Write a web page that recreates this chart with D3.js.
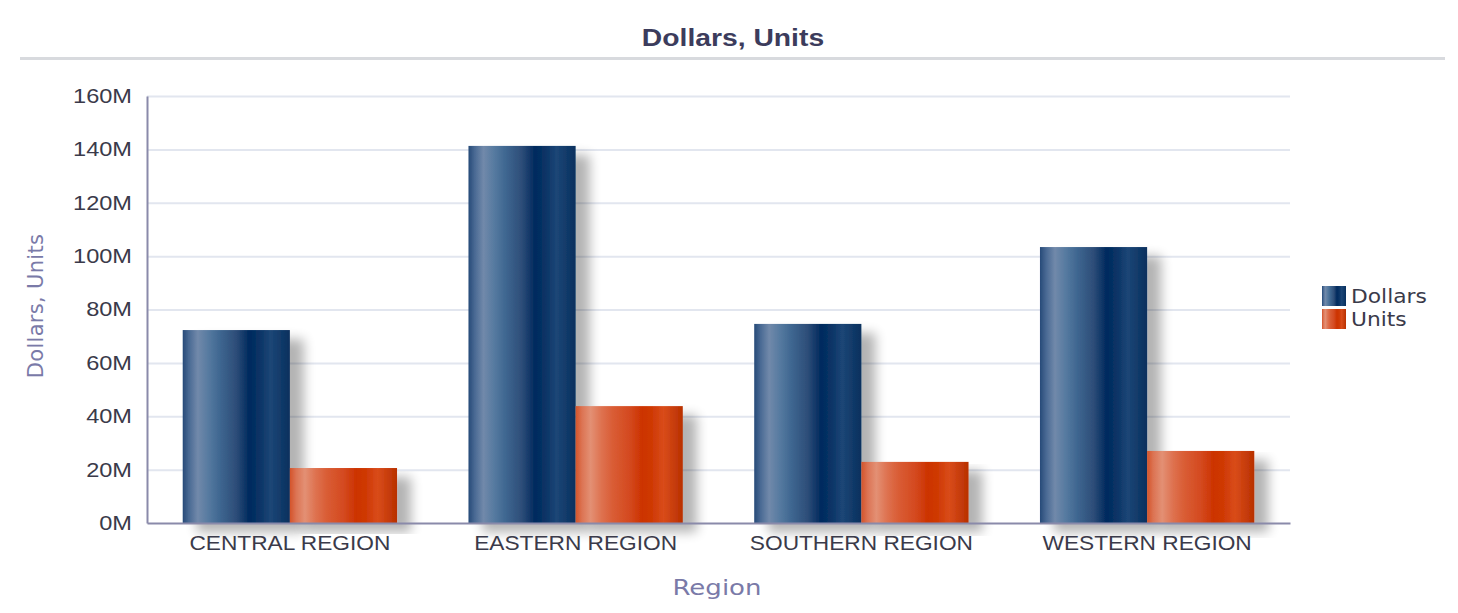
<!DOCTYPE html>
<html><head><meta charset="utf-8">
<script src="https://cdn.jsdelivr.net/npm/d3@7"></script>
<style>body{margin:0;background:#fff}svg{display:block}</style>
</head><body>
<svg id="c" width="1458" height="613"></svg>
<script>
const categories = ["CENTRAL REGION","EASTERN REGION","SOUTHERN REGION","WESTERN REGION"];
const seriesNames = ["Dollars","Units"];
const dollars = [72.3, 141.3, 74.6, 103.4];
const units = [20.6, 43.8, 22.9, 27.0];
const yTicks = [0,20,40,60,80,100,120,140,160];

const svg = d3.select("#c");
const W=1458,H=613;
const m = {l:147, r:168, t:96, b:90};
const x0 = d3.scaleBand().domain(categories).range([m.l, W-m.r]).paddingInner(0.25).paddingOuter(0.125);
const x1 = d3.scaleBand().domain(seriesNames).range([0, x0.bandwidth()]);
const y = d3.scaleLinear().domain([0,160]).range([H-m.b, m.t]);
const ARIAL = "Liberation Sans, Arial, sans-serif";
const VERD = "DejaVu Sans, Verdana, sans-serif";

const defs = svg.append("defs");
function grad(id, stops){
  const g = defs.append("linearGradient").attr("id",id).attr("x1","0").attr("x2","1").attr("y1","0").attr("y2","0");
  stops.forEach(s=>g.append("stop").attr("offset",s[0]).attr("stop-color",s[1]));
}
grad("gD",[[0,"#264a78"],[0.06,"#4a6a94"],[0.14,"#7189aa"],[0.24,"#567aa0"],[0.35,"#3e6690"],[0.5,"#2d4d78"],[0.62,"#002a5e"],[0.72,"#0a3466"],[0.82,"#1c4676"],[1,"#08305e"]]);
grad("gU",[[0,"#d4542a"],[0.06,"#dc7454"],[0.14,"#e39074"],[0.24,"#de7250"],[0.35,"#d95c34"],[0.5,"#d44a20"],[0.62,"#cc3300"],[0.72,"#cf3a06"],[0.82,"#d94c1a"],[1,"#b83000"]]);
const f = defs.append("filter").attr("id","sh").attr("x","-10%").attr("y","-10%").attr("width","160%").attr("height","130%");
f.append("feGaussianBlur").attr("in","SourceAlpha").attr("stdDeviation",6).attr("result","b");
f.append("feOffset").attr("in","b").attr("dx",14).attr("dy",9).attr("result","o");
f.append("feComponentTransfer").attr("in","o").attr("result","o2").append("feFuncA").attr("type","linear").attr("slope",0.3);
const mg = f.append("feMerge"); mg.append("feMergeNode").attr("in","o2"); mg.append("feMergeNode").attr("in","SourceGraphic");

// title
svg.append("text").attr("transform","translate(733,46) scale(1.23,1)").attr("text-anchor","middle")
  .attr("font-family",ARIAL).attr("font-weight","bold").attr("font-size",23)
  .attr("fill","#3c3c5c").text("Dollars, Units");
svg.append("line").attr("x1",20).attr("x2",1445).attr("y1",58.5).attr("y2",58.5).attr("stroke","#d8dade").attr("stroke-width",3);

// grid
svg.append("g").selectAll("line").data(yTicks.filter(d=>d>0)).join("line")
  .attr("x1",m.l).attr("x2",W-m.r).attr("y1",d=>y(d)+0.5).attr("y2",d=>y(d)+0.5)
  .attr("stroke","#e2e6ef").attr("stroke-width",2);

// bars
const data = categories.map((c,i)=>({c, vals:[{s:"Dollars",v:dollars[i]},{s:"Units",v:units[i]}]}));
const gg = svg.append("g").selectAll("g").data(data).join("g").attr("transform",d=>`translate(${x0(d.c)},0)`);
gg.selectAll("rect").data(d=>d.vals).join("rect")
  .attr("x",d=>x1(d.s)).attr("width",x1.bandwidth()).attr("y",d=>y(d.v)).attr("height",d=>y(0)-y(d.v))
  .attr("fill",d=>d.s==="Dollars"?"url(#gD)":"url(#gU)").attr("filter","url(#sh)");

// axes
const yAxis = d3.axisLeft(y).tickValues(yTicks).tickSize(0).tickPadding(15).tickFormat(d=>d+"M");
const ya = svg.append("g").attr("transform",`translate(${m.l},0)`).call(yAxis);
ya.select(".domain").attr("stroke","#8a8aaa").attr("stroke-width",2);
ya.selectAll("text").attr("font-family",ARIAL).attr("font-size",20).attr("fill","#3a3a4a")
  .attr("x",-15/1.18).attr("transform","scale(1.18,1)");

const xAxis = d3.axisBottom(x0).tickSize(0).tickPadding(13);
const xa = svg.append("g").attr("transform",`translate(0,${y(0)})`).call(xAxis);
xa.select(".domain").attr("stroke","#8a8aaa").attr("stroke-width",2);
xa.selectAll("text").attr("font-family",ARIAL).attr("font-size",20).attr("fill","#3a3a4a")
  .attr("transform","scale(1.135,1)");

svg.append("text").attr("transform","translate(43,306) rotate(-90)").attr("text-anchor","middle")
  .attr("font-family",VERD).attr("font-size",21).attr("letter-spacing",0.3).attr("fill","#7a7aa8").text("Dollars, Units");
svg.append("text").attr("transform","translate(717,595) scale(1.24,1)").attr("text-anchor","middle")
  .attr("font-family",VERD).attr("font-size",21).attr("fill","#7a7aa8").text("Region");

// legend
const lg = svg.append("g").attr("transform","translate(1322,286)");
const li = lg.selectAll("g").data(seriesNames).join("g").attr("transform",(d,i)=>`translate(0,${i*23})`);
li.append("rect").attr("width",24).attr("height",20).attr("fill",d=>d==="Dollars"?"url(#gD)":"url(#gU)");
li.append("text").attr("transform","translate(29,17) scale(1.09,1)").attr("font-family",VERD).attr("font-size",20).attr("fill","#3a3a4a").text(d=>d);
</script>
</body></html>
